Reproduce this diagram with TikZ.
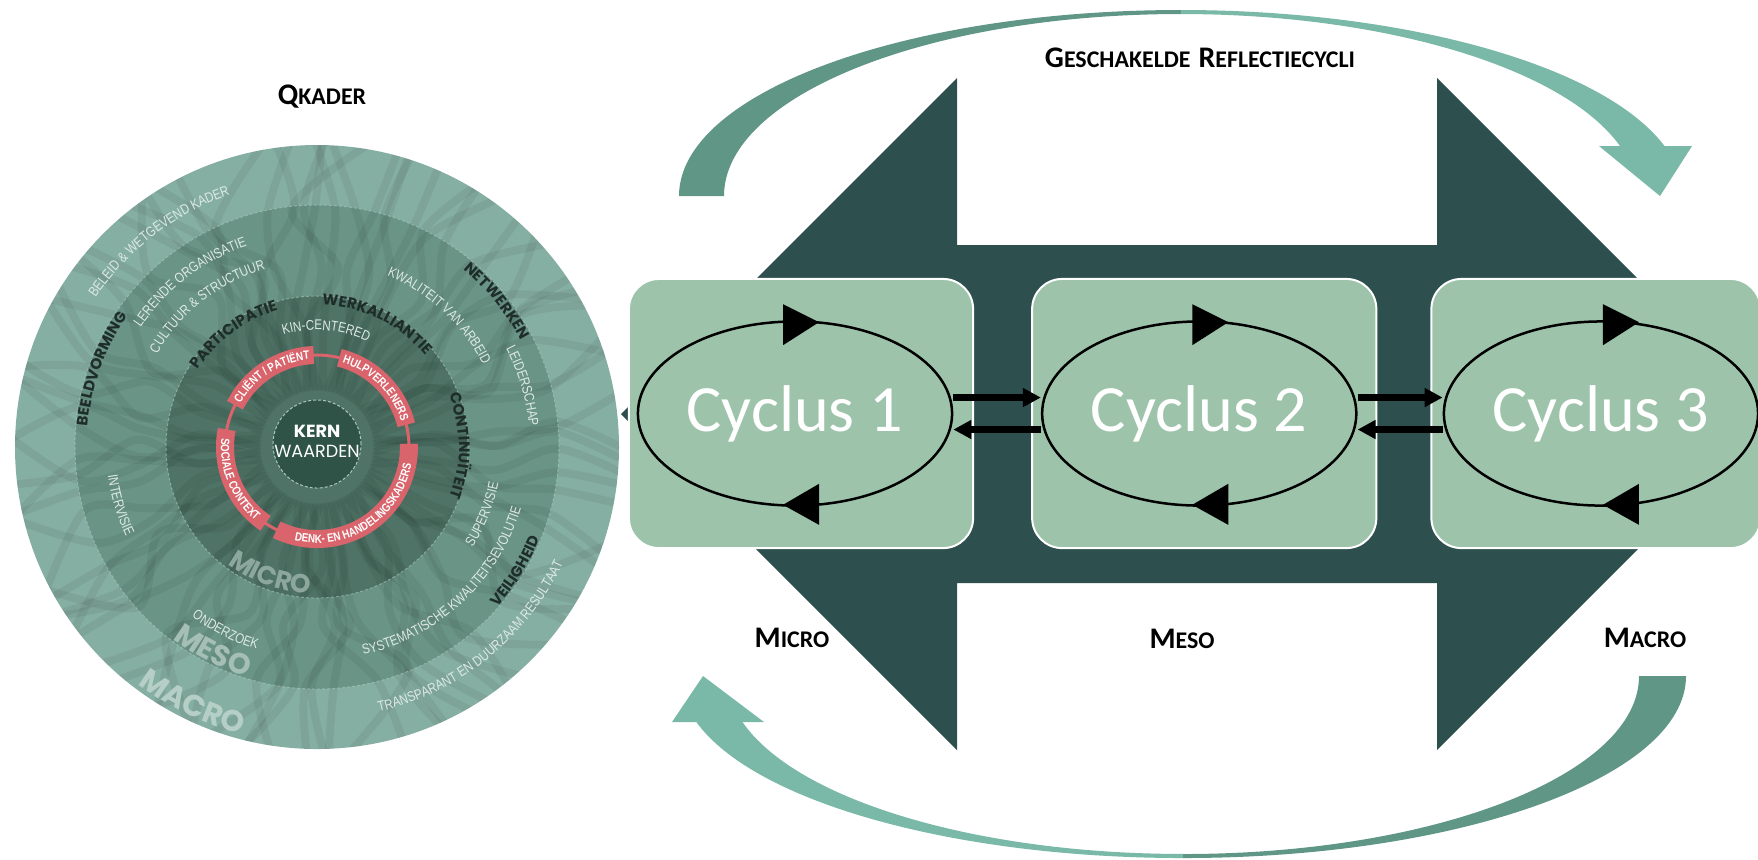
\documentclass[tikz,border=0pt]{standalone}
\usepackage{fontspec}
\setmainfont{Carlito}
\newfontfamily\ringfont[FakeStretch=0.82]{Liberation Sans}
\newfontfamily\geofont{Poppins}
\usetikzlibrary{shapes.geometric, decorations.text, arrows.meta, calc, positioning}

\definecolor{deepteal}{HTML}{2D4F4E}
\definecolor{panelgreen}{HTML}{9DC4AB}
\definecolor{arcdark}{HTML}{5F9686}
\definecolor{arclight}{HTML}{7AB9A8}
\definecolor{macroring}{HTML}{86AFA3}
\definecolor{mesoring}{HTML}{6A9486}
\definecolor{microring}{HTML}{4F7467}
\definecolor{kerncol}{HTML}{2F5447}
\definecolor{ringline}{HTML}{A9C7BD}
\definecolor{carered}{HTML}{D9646C}
\definecolor{ringtext}{HTML}{DDE9E5}
\definecolor{labeldark}{HTML}{1F2D2A}
\definecolor{microtext}{HTML}{8DA79E}
\definecolor{mesotext}{HTML}{A5BFB6}
\definecolor{macrotext}{HTML}{B5CFC6}

% small caps set by hand
\newcommand{\capword}[2]{{\fontsize{8.5}{10}\selectfont\bfseries #1}{\fontsize{6.8}{8}\selectfont\bfseries #2}}

% fonts of the wheel
\newcommand{\thinlabel}{\ringfont\fontsize{4}{5}\selectfont\color{ringtext}}
\newcommand{\boldlabel}{\geofont\bfseries\fontsize{4.3}{5}\selectfont\color{labeldark}}
\newcommand{\carelabel}{\ringfont\bfseries\fontsize{3.4}{4}\selectfont\color{white}}
\newcommand{\microlabel}{\geofont\bfseries\fontsize{7.4}{8}\selectfont\color{microtext}}
\newcommand{\mesolabel}{\geofont\bfseries\fontsize{8.3}{9}\selectfont\color{mesotext}}
\newcommand{\macrolabel}{\geofont\bfseries\fontsize{8.5}{9}\selectfont\color{macrotext}}

% text along a ring: clockwise (tops out) or counterclockwise (tops in)
\newcommand{\cwtext}[4]{%
  \path[decorate, decoration={text along path, text align=center, text={|#1|#4}}]
    ({#2+80}:#3) arc[start angle={#2+80}, end angle={#2-80}, radius=#3];}
\newcommand{\ccwtext}[4]{%
  \path[decorate, decoration={text along path, text align=center, text={|#1|#4}}]
    ({#2-80}:#3) arc[start angle={#2-80}, end angle={#2+80}, radius=#3];}

\tikzset{
  panel/.style={draw=white, line width=0.02cm, fill=panelgreen, rounded corners=0.3cm,
    minimum width=3.44cm, minimum height=2.69cm, inner sep=0pt},
  cycleloop/.style={ellipse, draw=black, line width=0.025cm, minimum width=3.14cm,
    minimum height=1.84cm, inner sep=0pt, text=white, font=\fontsize{18.8}{22}\selectfont},
  cyclelink/.style={line width=0.07cm, -{Triangle[length=0.18cm, width=0.18cm]}},
  heading/.style={anchor=base, inner sep=0pt},
  grain/.style={draw=black, opacity=0.06, line width=0.08cm, line cap=round},
  ringedge/.style={draw=ringline, opacity=0.6, line width=0.01cm, dash pattern=on 0.03cm off 0.02cm},
  careband/.style={draw=carered, line width=0.18cm},
}

\begin{document}
\begin{tikzpicture}[x=0.01cm, y=0.01cm]
  \useasboundingbox (0,0) rectangle (1758,-859);
  \clip (0,0) rectangle (1758,-859);

  % Wheel
  \begin{scope}[shift={(317,-447)}]
    \fill[macroring] (0,0) circle (302);
    \fill[mesoring] (0,0) circle (242);
    \fill[microring] (0,0) circle (151);
    \begin{scope}
      \clip (0,0) circle (302);
      \pgfmathsetseed{11}
      \foreach \a in {0,4,...,356}{
        \pgfmathsetmacro{\wa}{9*rand}
        \pgfmathsetmacro{\wb}{9*rand}
        \pgfmathsetmacro{\wc}{9*rand}
        \pgfmathsetmacro{\wd}{9*rand}
        \draw[grain] plot[smooth] coordinates
          {({\a}:60) ({\a+\wa}:120) ({\a+\wb}:180) ({\a+\wc}:240) ({\a+\wd}:310)};
      }
    \end{scope}
    \draw[ringedge] (0,0) circle (242);
    \draw[ringedge] (0,0) circle (151);

    % care ring
    \draw[carered, line width=0.03cm] (0,0) circle (92);
    \draw[careband] (153:92) arc[start angle=153, end angle=92, radius=92];
    \draw[careband] (76:92) arc[start angle=76, end angle=14, radius=92];
    \draw[careband] (-116:92) arc[start angle=-116, end angle=2, radius=92];
    \draw[careband] (169:92) arc[start angle=169, end angle=236, radius=92];

    % core
    \node[circle, fill=kerncol, draw=ringline, dash pattern=on 0.03cm off 0.02cm,
      line width=0.01cm, minimum size=0.88cm, inner sep=0pt] (kern) at (0,3) {};
    \node[inner sep=0pt, text=white, font=\geofont\bfseries\fontsize{5}{6}\selectfont]
      (kernword) at (0,16) {KERN};
    \node[inner sep=0pt, text=white, font=\geofont\fontsize{5}{6}\selectfont,
      below=0.07cm of kernword] (waarden) {WAARDEN};

    % upper texts
    \cwtext{\thinlabel}{127.5}{267}{BELEID {\&} WETGEVEND KADER}
    \cwtext{\thinlabel}{127.5}{213}{LERENDE ORGANISATIE}
    \cwtext{\thinlabel}{128}{185}{CULTUUR {\&} STRUCTUUR}
    \cwtext{\boldlabel}{160}{230}{BEELDVORMING}
    \cwtext{\boldlabel}{39}{230}{NETWERKEN}
    \cwtext{\thinlabel}{47}{185}{KWALITEIT VAN ARBEID}
    \cwtext{\thinlabel}{16.5}{213}{LEIDERSCHAP}
    \cwtext{\boldlabel}{126.5}{142}{PARTICIPATIE}
    \cwtext{\boldlabel}{64}{142}{WERKALLIANTIE}
    \cwtext{\boldlabel}{0.5}{142}{CONTINUÏTEIT}
    \cwtext{\thinlabel}{85.5}{117}{KIN-CENTERED}
    \cwtext{\carelabel}{122.5}{88}{CLIËNT / PATIËNT}
    \cwtext{\carelabel}{45}{88}{HULPVERLENERS}
    % lower texts
    \ccwtext{\thinlabel}{196.5}{211}{INTERVISIE}
    \ccwtext{\thinlabel}{-22}{185}{SUPERVISIE}
    \ccwtext{\thinlabel}{-47}{213}{SYSTEMATISCHE KWALITEITSEVOLUTIE}
    \ccwtext{\boldlabel}{-32}{241}{VEILIGHEID}
    \ccwtext{\thinlabel}{-51}{272}{TRANSPARANT EN DUURZAAM RESULTAAT}
    \ccwtext{\thinlabel}{243.5}{211}{ONDERZOEK}
    \ccwtext{\microlabel}{250}{147}{MICRO}
    \ccwtext{\mesolabel}{243}{240}{MESO}
    \ccwtext{\macrolabel}{244}{297}{MACRO}
    \ccwtext{\carelabel}{-57}{96}{DENK- EN HANDELINGSKADERS}
    \ccwtext{\carelabel}{202.5}{96}{SOCIALE CONTEXT}
  \end{scope}
  \node[heading] (qkader) at (322,-104) {\capword{Q}{KADER}};

  % Curved arrows
  \fill[arcdark] (679,-196) arc[start angle=180, end angle=90, x radius=502, y radius=186]
    -- (1181,-14) arc[start angle=90, end angle=180, x radius=457, y radius=182] -- cycle;
  \fill[arclight] (1181,-10) arc[start angle=90, end angle=15.6, x radius=502, y radius=186]
    -- (1620,-146) arc[start angle=15.95, end angle=90, x radius=457, y radius=182] -- cycle;
  \fill[arclight] (1599,-146) -- (1692,-146) -- (1660,-196) -- cycle;
  \fill[arcdark] (1686,-676) arc[start angle=0, end angle=-90, x radius=503, y radius=182]
    -- (1183,-854) arc[start angle=-90, end angle=0, x radius=456, y radius=178] -- cycle;
  \fill[arclight] (1183,-858) arc[start angle=-90, end angle=-165.4, x radius=503, y radius=182]
    -- (742.5,-722) arc[start angle=-165, end angle=-90, x radius=456, y radius=178] -- cycle;
  \fill[arclight] (672,-722) -- (764,-722) -- (703,-676) -- cycle;

  % Backbone
  \fill[deepteal] (621,-414) -- (957,-78) -- (957,-245) -- (1437,-245) -- (1437,-78)
    -- (1773,-414) -- (1437,-750) -- (1437,-583) -- (957,-583) -- (957,-750) -- cycle;

  % Cycles
  \node[panel] (b1) at (801,-413.5) {};
  \node[panel, right=0.57cm of b1] (b2) {};
  \node[panel, right=0.53cm of b2, minimum width=3.29cm] (b3) {};
  \node[cycleloop] (c1) at ($(b1.center)+(-6,0)$) {Cyclus 1};
  \node[cycleloop] (c2) at ($(b2.center)+(-5,0)$) {Cyclus 2};
  \node[cycleloop] (c3) at ($(b3.center)+(5,0)$) {Cyclus 3};
  \foreach \c/\dx in {c1/-12, c2/-7, c3/2}{
    \fill ($(\c.north)+(\dx,16)$) -- ($(\c.north)+(\dx+36,-2)$) -- ($(\c.north)+(\dx,-25)$) -- cycle;
    \fill ($(\c.south)+(\dx+36,23)$) -- ($(\c.south)+(\dx,2)$) -- ($(\c.south)+(\dx+36,-18)$) -- cycle;
  }
  \draw[cyclelink] ($(c1.east)+(0,16)$) -- ($(c2.west)+(0,16)$);
  \draw[cyclelink] ($(c2.west)+(0,-16)$) -- ($(c1.east)+(0,-16)$);
  \draw[cyclelink] ($(c2.east)+(0,16)$) -- ($(c3.west)+(0,16)$);
  \draw[cyclelink] ($(c3.west)+(0,-16)$) -- ($(c2.east)+(0,-16)$);

  % Labels
  \node[heading] (reflectie) at (1200,-67) {\capword{G}{ESCHAKELDE} \capword{R}{EFLECTIECYCLI}};
  \node[heading] (micro) at (792,-647) {\capword{M}{ICRO}};
  \node[heading] (meso) at (1182,-648) {\capword{M}{ESO}};
  \node[heading] (macro) at (1645,-647) {\capword{M}{ACRO}};
\end{tikzpicture}
\end{document}
